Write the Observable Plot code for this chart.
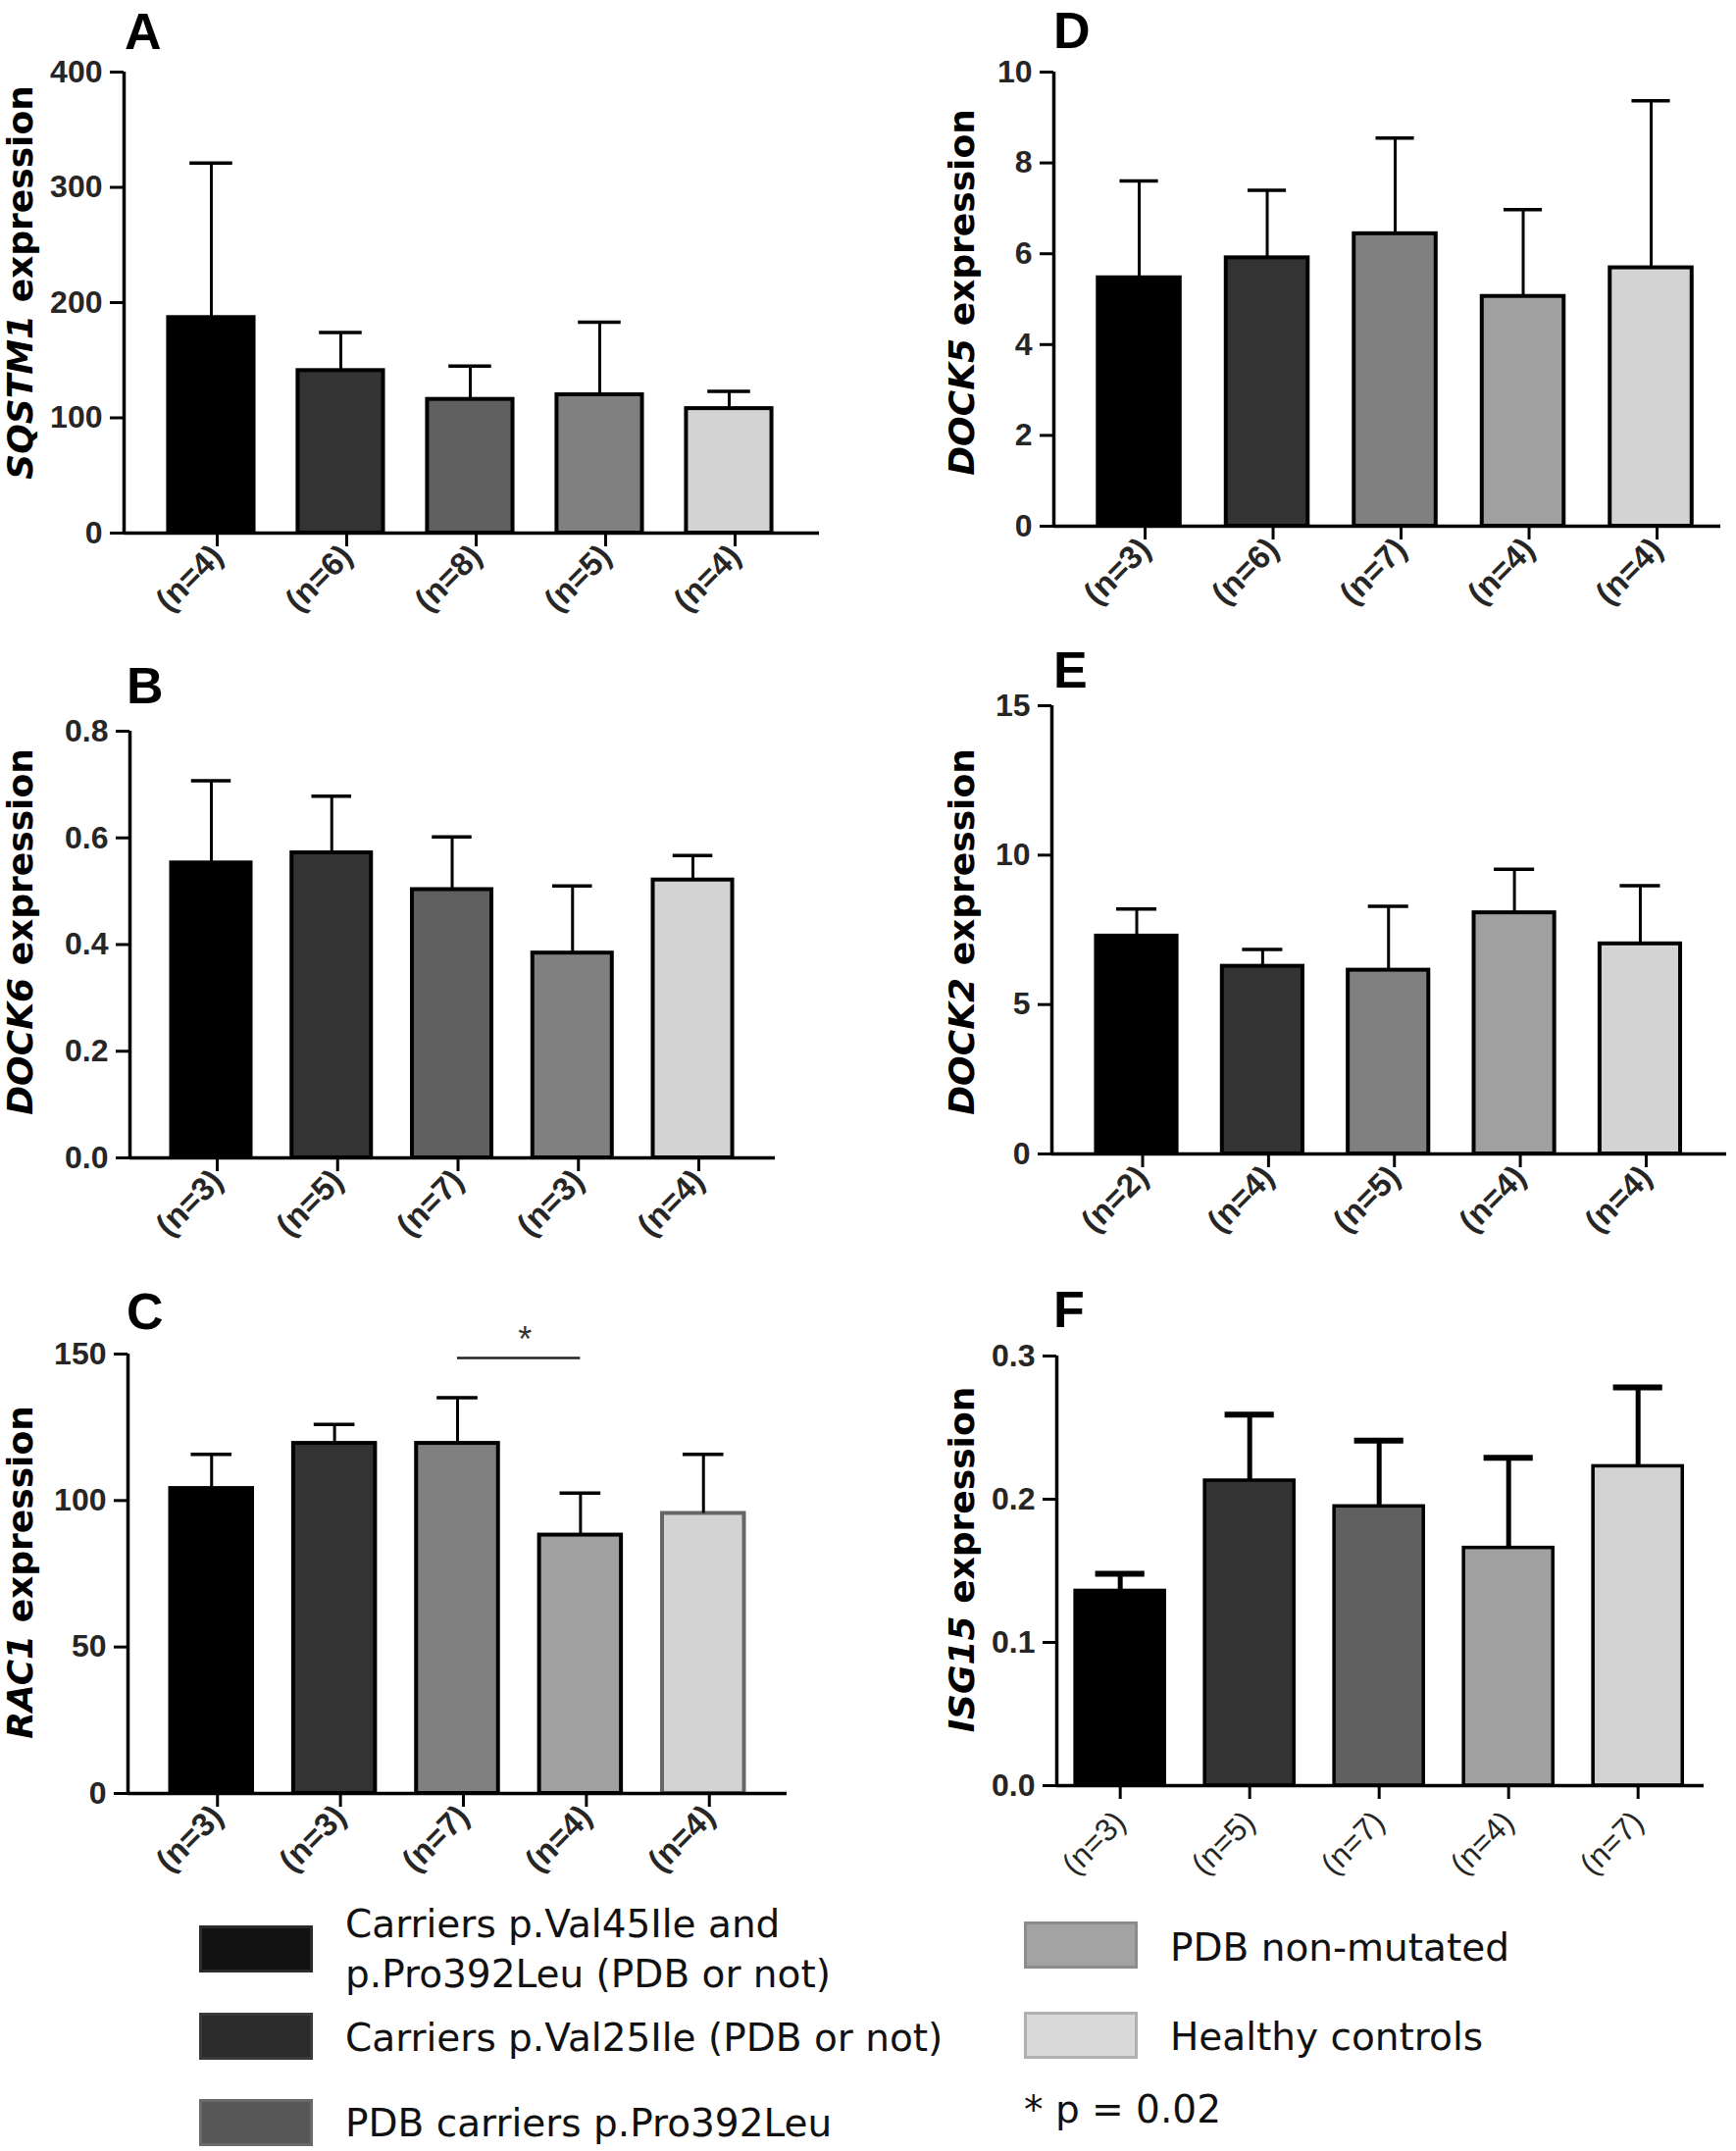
<!DOCTYPE html>
<html>
<head>
<meta charset="utf-8">
<script src="https://cdn.jsdelivr.net/npm/d3@7"></script>
<script src="https://cdn.jsdelivr.net/npm/@observablehq/plot@0.6"></script>
<style>
  body { margin: 0; background: #fff; }
  #fig { position: relative; width: 1770px; height: 2193px; background: #fff; overflow: hidden; }
  .cell { position: absolute; }
  .cell svg { overflow: visible; }
  .cell svg g[aria-label="y-axis tick"], .cell svg g[aria-label="x-axis tick"] { stroke-width: 3px; }
  .cell svg g[aria-label="y-axis tick label"] text, .cell svg g[aria-label="x-axis tick label"] text { fill: #262626; }
  .lg-swatch { position: absolute; box-sizing: border-box; border: 3px solid #444; }
  .lg-text { position: absolute; font-family: "DejaVu Sans", sans-serif; font-size: 39px; line-height: 51px; color: #111; transform: translateY(-50%); white-space: nowrap; }
  .lg-text.wrap { white-space: normal; width: 540px; }
</style>
</head>
<body>
<div id="fig"></div>
<script>
// ---------------- data ----------------
const groupLabels = [
  "Carriers p.Val45Ile and p.Pro392Leu (PDB or not)",
  "Carriers p.Val25Ile (PDB or not)",
  "PDB carriers p.Pro392Leu",
  "PDB non-mutated",
  "Healthy controls"
];
const legendFills   = ["#121212", "#2b2b2b", "#575757", "#a3a3a3", "#d9d9d9"];
const legendBorders = ["#2a2a2a", "#3a3a3a", "#6a6a6a", "#8c8c8c", "#b0b0b0"];
const pNote = "* p = 0.02";

// Panel A – SQSTM1
const sqstm1Mean  = [187, 141, 116, 120, 108];
const sqstm1Upper = [321, 174, 145, 183, 123];
const sqstm1N     = [4, 6, 8, 5, 4];
const sqstm1Fill  = ["#000000", "#333333", "#5f5f5f", "#808080", "#d3d3d3"];
const sqstm1Ticks = [0, 100, 200, 300, 400];

// Panel B – DOCK6
const dock6Mean  = [0.553, 0.572, 0.503, 0.384, 0.521];
const dock6Upper = [0.707, 0.678, 0.602, 0.510, 0.567];
const dock6N     = [3, 5, 7, 3, 4];
const dock6Fill  = ["#000000", "#333333", "#5f5f5f", "#808080", "#d3d3d3"];
const dock6Ticks = [0, 0.2, 0.4, 0.6, 0.8];

// Panel C – RAC1
const rac1Mean  = [104.1, 119.5, 119.5, 88.2, 95.6];
const rac1Upper = [115.8, 126.0, 135.1, 102.5, 115.8];
const rac1N     = [3, 3, 7, 4, 4];
const rac1Fill  = ["#000000", "#333333", "#808080", "#a0a0a0", "#d3d3d3"];
const rac1Stroke = ["#000000", "#000000", "#000000", "#000000", "#666666"];
const rac1Ticks = [0, 50, 100, 150];
const rac1SigFrom = [2];
const rac1SigTo = [3];
const rac1SigLevel = [148.7];
const rac1SigText = ["*"];

// Panel D – DOCK5
const dock5Mean  = [5.47, 5.91, 6.44, 5.06, 5.69];
const dock5Upper = [7.60, 7.40, 8.55, 6.97, 9.37];
const dock5N     = [3, 6, 7, 4, 4];
const dock5Fill  = ["#000000", "#333333", "#808080", "#a0a0a0", "#d3d3d3"];
const dock5Ticks = [0, 2, 4, 6, 8, 10];

// Panel E – DOCK2
const dock2Mean  = [7.29, 6.28, 6.15, 8.07, 7.03];
const dock2Upper = [8.20, 6.84, 8.29, 9.53, 8.98];
const dock2N     = [2, 4, 5, 4, 4];
const dock2Fill  = ["#000000", "#333333", "#808080", "#a0a0a0", "#d3d3d3"];
const dock2Ticks = [0, 5, 10, 15];

// Panel F – ISG15
const isg15Mean  = [0.136, 0.213, 0.195, 0.166, 0.223];
const isg15Upper = [0.148, 0.259, 0.241, 0.229, 0.278];
const isg15N     = [3, 5, 7, 4, 7];
const isg15Fill  = ["#000000", "#333333", "#5f5f5f", "#a0a0a0", "#d3d3d3"];
const isg15Ticks = [0, 0.1, 0.2, 0.3];

// ---------------- panels (data + layout) ----------------
const fmt1 = d3.format(".1f");
const fmt0 = d3.format("d");
const panels = [
  {letter: "A", gene: "SQSTM1", mean: sqstm1Mean, upper: sqstm1Upper, n: sqstm1N, fill: sqstm1Fill, ticks: sqstm1Ticks, fmt: fmt0,
   left: 0, top: 0, w: 885, h: 640, mL: 126, mT: 73, mB: 97, mR: 50, xd: [-0.674, 4.697], bh: 0.33, ch: 0.165,
   lab: [33, 288], let: [127, 50], barW: 4, errW: 3, capW: 3.5, xw: "bold", xdx: 6, xpad: 4, xfs: 33},
  {letter: "D", gene: "DOCK5", mean: dock5Mean, upper: dock5Upper, n: dock5N, fill: dock5Fill, ticks: dock5Ticks, fmt: fmt0,
   left: 885, top: 0, w: 885, h: 640, mL: 189, mT: 73, mB: 104, mR: 16, xd: [-0.667, 4.544], bh: 0.32, ch: 0.15,
   lab: [108, 298], let: [189, 49], barW: 4, errW: 3, capW: 3.5, xw: "bold", xdx: 6, xpad: 4, xfs: 33},
  {letter: "B", gene: "DOCK6", mean: dock6Mean, upper: dock6Upper, n: dock6N, fill: dock6Fill, ticks: dock6Ticks, fmt: fmt1,
   left: 0, top: 640, w: 885, h: 650, mL: 132, mT: 105, mB: 110, mR: 95, xd: [-0.676, 4.684], bh: 0.33, ch: 0.165,
   lab: [33, 310], let: [129, 77], barW: 4, errW: 3, capW: 3.5, xw: "bold", xdx: 6, xpad: 4, xfs: 33},
  {letter: "E", gene: "DOCK2", mean: dock2Mean, upper: dock2Upper, n: dock2N, fill: dock2Fill, ticks: dock2Ticks, fmt: fmt0,
   left: 885, top: 640, w: 885, h: 650, mL: 187, mT: 79, mB: 114, mR: 10, xd: [-0.674, 4.686], bh: 0.32, ch: 0.16,
   lab: [108, 310], let: [189, 61], barW: 4, errW: 3, capW: 3.5, xw: "bold", xdx: 6, xpad: 4, xfs: 33},
  {letter: "C", gene: "RAC1", mean: rac1Mean, upper: rac1Upper, n: rac1N, fill: rac1Fill, stroke: rac1Stroke, ticks: rac1Ticks, fmt: fmt0,
   left: 0, top: 1290, w: 885, h: 610, mL: 130, mT: 90, mB: 72, mR: 83, xd: [-0.68, 4.68], bh: 0.333, ch: 0.166,
   lab: [33, 313], let: [129, 65], barW: 4, errW: 3, capW: 3.5, xw: "bold", xdx: 6, xpad: 4, xfs: 33,
   sig: rac1SigFrom.map((f, k) => ({from: f, to: rac1SigTo[k], level: rac1SigLevel[k], text: rac1SigText[k]}))},
  {letter: "F", gene: "ISG15", mean: isg15Mean, upper: isg15Upper, n: isg15N, fill: isg15Fill, ticks: isg15Ticks, fmt: fmt1,
   left: 885, top: 1290, w: 885, h: 610, mL: 192, mT: 92, mB: 80, mR: 33, xd: [-0.49, 4.51], bh: 0.345, ch: 0.19,
   lab: [108, 300], let: [189, 63], barW: 3.5, errW: 5, capW: 6, xw: "normal", xdx: 0, xpad: 18, xfs: 32}
];

const fig = d3.select("#fig");

for (const p of panels) {
  const idx = d3.range(p.mean.length);
  const rows = idx.map(i => ({
    i, mean: p.mean[i], upper: p.upper[i], n: p.n[i],
    fill: p.fill[i], stroke: p.stroke ? p.stroke[i] : "#000000"
  }));
  const marks = [
    Plot.rectY(rows, {x1: d => d.i - p.bh, x2: d => d.i + p.bh, y1: 0, y2: "mean",
      fill: "fill", stroke: "stroke", strokeWidth: p.barW}),
    Plot.ruleX(rows, {x: "i", y1: "mean", y2: "upper", stroke: "#000", strokeWidth: p.errW}),
    Plot.ruleY(rows, {y: "upper", x1: d => d.i - p.ch, x2: d => d.i + p.ch, stroke: "#000", strokeWidth: p.capW}),
    Plot.ruleY([0], {stroke: "#000", strokeWidth: 3.5}),
    Plot.ruleX([p.xd[0]], {stroke: "#000", strokeWidth: 3.5}),
    Plot.axisY({ticks: p.ticks, tickFormat: p.fmt, tickSize: 14, tickPadding: 8, label: null,
      fontSize: 32, fontWeight: "bold", strokeWidth: 3}),
    Plot.axisX({ticks: idx, tickFormat: i => `(n=${p.n[i]})`, tickRotate: -45, tickSize: 14, tickPadding: p.xpad,
      label: null, fontSize: p.xfs, fontWeight: p.xw, strokeWidth: 3, dx: p.xdx})
  ];
  if (p.sig) {
    marks.push(Plot.ruleY(p.sig, {y: "level", x1: "from", x2: "to", stroke: "#222", strokeWidth: 2.5}));
    marks.push(Plot.text(p.sig, {x: d => (d.from + d.to) / 2, y: "level", text: "text", dy: -18, dx: 6,
      fontSize: 36, fill: "#333"}));
  }
  const chart = Plot.plot({
    width: p.w, height: p.h,
    marginLeft: p.mL, marginTop: p.mT, marginBottom: p.mB, marginRight: p.mR,
    x: {type: "linear", domain: p.xd, label: null},
    y: {domain: [0, p.ticks[p.ticks.length - 1]], label: null},
    color: {type: "identity"},
    style: {fontFamily: "'Liberation Sans', Arial, sans-serif", background: "transparent", overflow: "visible"},
    marks
  });
  const svg = d3.select(chart);
  // y-axis label: italic gene name + " expression"
  const t = svg.append("text")
    .attr("transform", `translate(${p.lab[0]},${p.lab[1]}) rotate(-90)`)
    .attr("text-anchor", "middle")
    .attr("font-family", "'DejaVu Sans', sans-serif")
    .attr("font-weight", "bold")
    .attr("font-size", 36)
    .attr("fill", "#000");
  t.append("tspan").attr("font-style", "italic").text(p.gene);
  t.append("tspan").text(" expression");
  // panel letter
  svg.append("text")
    .attr("x", p.let[0]).attr("y", p.let[1])
    .attr("text-anchor", "start")
    .attr("font-family", "'Liberation Sans', Arial, sans-serif")
    .attr("font-weight", "bold").attr("font-size", 52).attr("fill", "#000")
    .text(p.letter);

  fig.append("div").attr("class", "cell")
    .style("left", p.left + "px").style("top", p.top + "px")
    .node().appendChild(chart);
}

// ---------------- legend ----------------
const legendSwatchPos = [[203, 1963], [203, 2052], [203, 2140], [1044, 1959], [1044, 2051]];
const legendTextPos   = [[352, 1987], [352, 2077], [352, 2164], [1193, 1985], [1193, 2076]];
groupLabels.forEach((label, i) => {
  fig.append("div").attr("class", "lg-swatch")
    .style("left", legendSwatchPos[i][0] + "px").style("top", legendSwatchPos[i][1] + "px")
    .style("width", "116px").style("height", "48px")
    .style("background", legendFills[i]).style("border-color", legendBorders[i]);
  fig.append("div").attr("class", i === 0 ? "lg-text wrap" : "lg-text")
    .style("left", legendTextPos[i][0] + "px").style("top", legendTextPos[i][1] + "px")
    .text(label);
});
fig.append("div").attr("class", "lg-text")
  .style("left", "1044px").style("top", "2150px")
  .text(pNote);
</script>
</body>
</html>
